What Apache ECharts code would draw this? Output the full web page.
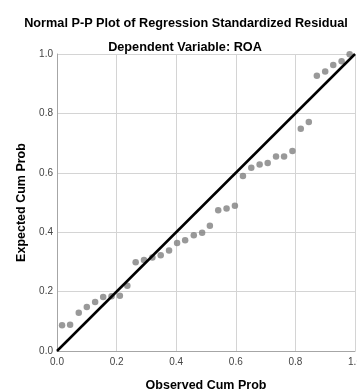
<!DOCTYPE html>
<html>
<head>
<meta charset="utf-8">
<script src="https://cdn.jsdelivr.net/npm/echarts@6/dist/echarts.min.js"></script>
<style>
  html, body { margin: 0; padding: 0; background: #fff; }
  #chart { width: 357px; height: 390px; }
</style>
</head>
<body>
<div id="chart"></div>
<script>
// observed vs expected cumulative probability
const observed = [0.017, 0.044, 0.073, 0.100, 0.128, 0.155, 0.183, 0.211, 0.236, 0.264, 0.292, 0.320,
  0.348, 0.376, 0.403, 0.430, 0.459, 0.487, 0.513, 0.541, 0.569, 0.597, 0.624, 0.652,
  0.680, 0.707, 0.735, 0.762, 0.790, 0.818, 0.845, 0.872, 0.900, 0.927, 0.955, 0.982]
const expected = [0.087, 0.088, 0.129, 0.148, 0.165, 0.182, 0.184, 0.186, 0.220, 0.299, 0.306, 0.315,
  0.322, 0.338, 0.364, 0.373, 0.390, 0.398, 0.422, 0.474, 0.480, 0.489, 0.589, 0.617,
  0.628, 0.633, 0.655, 0.655, 0.673, 0.748, 0.771, 0.927, 0.941, 0.963, 0.976, 0.999]
const refLine = [[0, 0], [1, 1]]

const chart = echarts.init(document.getElementById('chart'))
const font = 'Liberation Sans, Arial, sans-serif'

const axisCommon = {
  type: 'value',
  min: 0,
  max: 1,
  interval: 0.2,
  axisLine: { show: true, lineStyle: { color: '#a6a6a6', width: 1 } },
  axisTick: { show: false },
  splitLine: { show: true, lineStyle: { color: '#d4d4d4', width: 1 } },
  nameLocation: 'middle',
  nameTextStyle: { fontFamily: font, fontWeight: 'bold', fontSize: 12.5, color: '#000' },
  axisLabel: {
    fontFamily: font, fontSize: 10, color: '#444',
    formatter: v => v.toFixed(1)
  }
}

const option = {
  animation: false,
  title: [
    {
      text: 'Normal P-P Plot of Regression Standardized Residual',
      left: 181, top: 12, textAlign: 'center',
      textStyle: { fontFamily: font, fontWeight: 'bold', fontSize: 12.7, color: '#000' }
    },
    {
      text: 'Dependent Variable: ROA',
      left: 180, top: 36, textAlign: 'center',
      textStyle: { fontFamily: font, fontWeight: 'bold', fontSize: 12.7, color: '#000' }
    }
  ],
  grid: { left: 57, right: 2, top: 54, bottom: 39, outerBoundsMode: 'none', containLabel: false },
  xAxis: {
    ...axisCommon,
    name: 'Observed Cum Prob',
    nameGap: 28,
    axisLabel: { ...axisCommon.axisLabel, margin: 6 }
  },
  yAxis: {
    ...axisCommon,
    name: 'Expected Cum Prob',
    nameGap: 28,
    axisLabel: { ...axisCommon.axisLabel, margin: 4 }
  },
  series: [
    {
      type: 'scatter',
      symbolSize: 6.5,
      itemStyle: { color: '#7f7f7f' },
      data: observed.map((x, i) => [x, expected[i]]),
      z: 2
    },
    {
      type: 'line',
      data: refLine,
      symbol: 'none',
      lineStyle: { color: '#000', width: 2.5 },
      z: 3
    }
  ]
}

chart.setOption(option)
</script>
</body>
</html>
